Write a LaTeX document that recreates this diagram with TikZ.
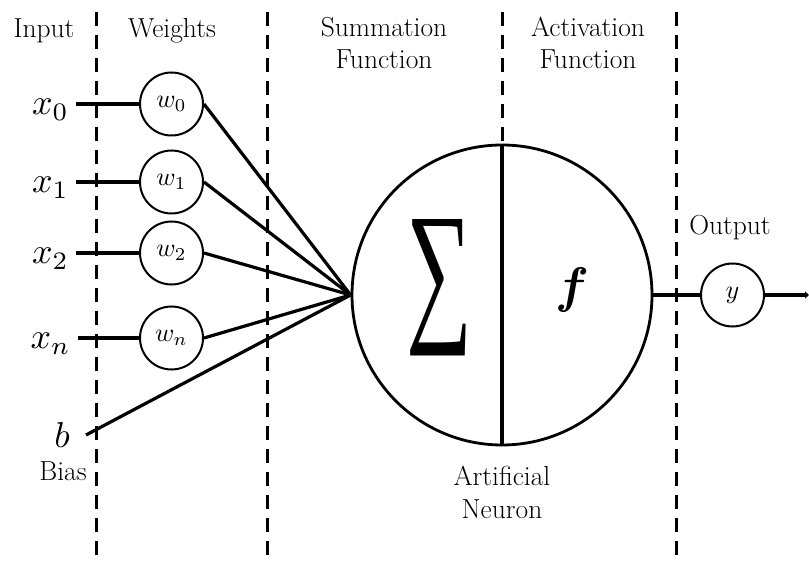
\documentclass[tikz,border=0pt]{standalone}
\usepackage{amsmath}
\usepackage{bm}
\usepackage{graphicx}
\usepackage{fontspec}
\newfontfamily\sumfont{Liberation Serif}
\usetikzlibrary{arrows.meta}
\newcommand{\inmath}[1]{\scalebox{3.6}{$#1$}}
\newcommand{\wmath}[1]{\scalebox{2.6}{$#1$}}
\tikzset{
  lbl/.style={inner sep=0pt, anchor=base, font=\fontsize{27.5}{30}\selectfont},
  inlbl/.style={inner sep=0pt, anchor=base east},
  wcirc/.style={circle, draw, line width=2pt, minimum size=63pt, inner sep=0pt},
  conn/.style={line width=3.2pt},
  sep/.style={line width=3pt, dash pattern=on 14pt off 9pt},
}
\begin{document}
\begin{tikzpicture}[x=1pt,y=-1pt]
\useasboundingbox (0,0) rectangle (809,561);
% headers
\node[lbl] (hin) at (44,38) {Input};
\node[lbl] (hw) at (172,38) {Weights};
\node[lbl] (hs1) at (384,37) {Summation};
\node[lbl] (hs2) at (384,69) {Function};
\node[lbl] (ha1) at (588,37) {Activation};
\node[lbl] (ha2) at (588,69) {Function};
\node[lbl] (hout) at (730,235) {Output};
\node[lbl] (an1) at (502,485) {Artificial};
\node[lbl] (an2) at (502,518) {Neuron};
\node[lbl] (bias) at (63,480) {Bias};
% neuron
\node[circle, draw, line width=2.8pt, minimum size=300pt, inner sep=0pt] (N) at (502,295) {};
\draw[line width=4.8pt] (N.north) -- (N.south);
\node[inner sep=0pt] (sig) at (440,288) {\resizebox{66pt}{103pt}{\sumfont ∑}};
\node[inner sep=0pt] (f) at (572,290) {\scalebox{5}{$\bm{f}$}};
% separators
\coordinate (s1t) at (96,12); \coordinate (s1b) at (96,561);
\coordinate (s2t) at (267,12); \coordinate (s2b) at (267,561);
\coordinate (s3t) at (502,12);
\coordinate (s4t) at (676,12); \coordinate (s4b) at (676,561);
\draw[sep] (s1t) -- (s1b);
\draw[sep] (s2t) -- (s2b);
\draw[sep] (s3t) -- (N.north);
\draw[sep] (s4t) -- (s4b);
% inputs
\node[inlbl] (x0) at (69,115) {\inmath{x_0}};
\node[inlbl] (x1) at (69,193) {\inmath{x_1}};
\node[inlbl] (x2) at (69,264) {\inmath{x_2}};
\node[inlbl] (xn) at (71,349) {\inmath{x_n}};
\node[inlbl] (b) at (70,447) {\inmath{b}};
\coordinate (x0e) at (76,104);
\coordinate (x1e) at (76,182);
\coordinate (x2e) at (76,253);
\coordinate (xne) at (78,338);
\coordinate (be) at (86,435);
% weights
\node[wcirc] (w0) at (171.5,104) {\wmath{w_0}};
\node[wcirc] (w1) at (171.5,182) {\wmath{w_1}};
\node[wcirc] (w2) at (171.5,253) {\wmath{w_2}};
\node[wcirc] (wn) at (171.5,338) {\wmath{w_n}};
\draw[conn] (x0e) -- (w0.west);
\draw[conn] (x1e) -- (w1.west);
\draw[conn] (x2e) -- (w2.west);
\draw[conn] (xne) -- (wn.west);
\draw[conn] (w0.east) -- (N.west);
\draw[conn] (w1.east) -- (N.west);
\draw[conn] (w2.east) -- (N.west);
\draw[conn] (wn.east) -- (N.west);
\draw[conn] (be) -- (N.west);
% output
\node[wcirc] (y) at (732.5,295) {\wmath{y}};
\coordinate (oe) at (809,295);
\draw[conn] (N.east) -- (y.west);
\draw[conn, -{Triangle[length=4pt,width=7pt]}] (y.east) -- (oe);
\end{tikzpicture}
\end{document}
